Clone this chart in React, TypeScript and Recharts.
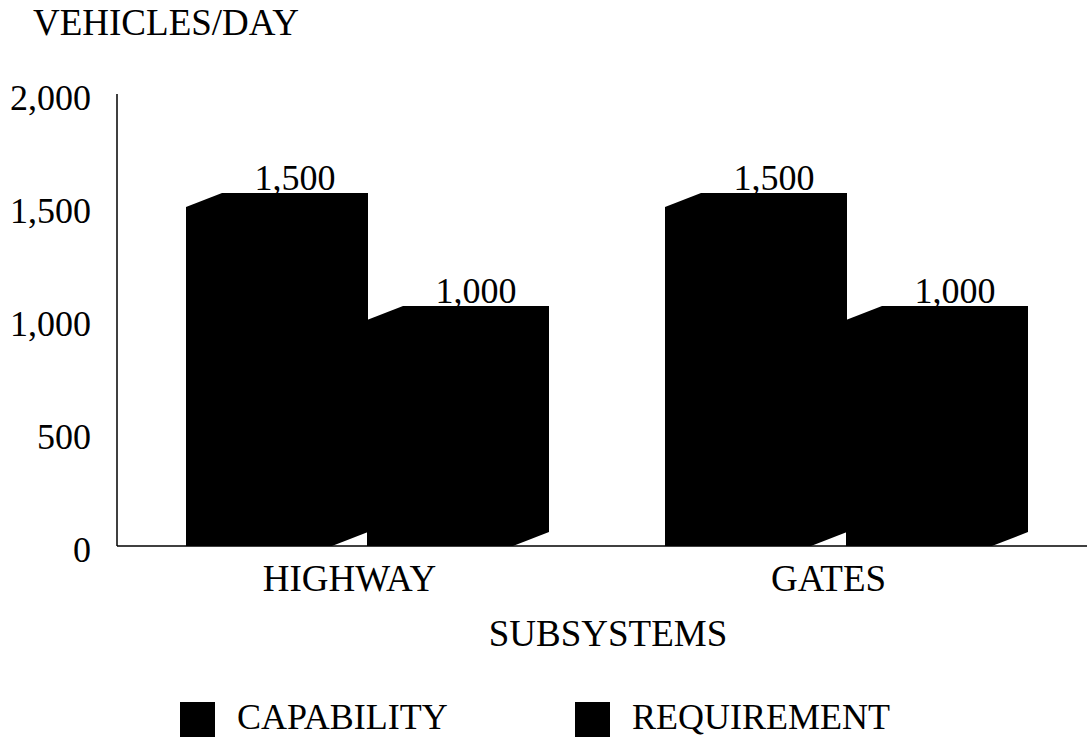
import { BarChart, Bar, XAxis, YAxis, LabelList } from 'recharts';

const subsystems = ['HIGHWAY', 'GATES'];
const capability = [1500, 1500];
const requirement = [1000, 1000];
const yTicks = [0, 500, 1000, 1500, 2000];
const seriesNames = ['CAPABILITY', 'REQUIREMENT'];

const data = subsystems.map((name, i) => ({
  name,
  capability: capability[i],
  requirement: requirement[i],
}));

const FONT = '"Liberation Serif", serif';
// depth of the fake 3D block
const DX = 36;
const DY = -14;

const fmt = (v: number) => v.toLocaleString('en-US');

function Block(props: any) {
  const { x, y, width, height, fill } = props;
  const pts = [
    [x, y + height],
    [x, y],
    [x + DX, y + DY],
    [x + width + DX, y + DY],
    [x + width + DX, y + height + DY],
    [x + width, y + height],
  ];
  return <polygon points={pts.map((p) => p.join(',')).join(' ')} fill={fill} />;
}

function TopLabel(props: any) {
  const { x, y, width, value } = props;
  return (
    <text x={x + width / 2 + DX} y={y + DY - 3} textAnchor="middle" style={{ fontFamily: FONT }} fontSize={36} fill="#000">
      {fmt(value)}
    </text>
  );
}

function YTick(props: any) {
  const { x, y, payload } = props;
  return (
    <text x={x} y={y + 3} dy="0.355em" textAnchor="end" style={{ fontFamily: FONT }} fontSize={36} fill="#000">
      {fmt(payload.value)}
    </text>
  );
}

function XTick(props: any) {
  const { x, y, payload } = props;
  return (
    <text x={x} y={y} dy="0.71em" textAnchor="middle" style={{ fontFamily: FONT }} fontSize={37} fill="#000">
      {payload.value}
    </text>
  );
}

export default function App() {
  return (
    <div style={{ position: 'absolute', left: 0, top: 0, width: 1087, height: 737, background: '#fff' }}>
      <BarChart
        width={1087}
        height={737}
        data={data}
        margin={{ top: 94, right: 0, left: 0, bottom: 91 }}
        barSize={146}
        barGap={35}
      >
        <XAxis
          dataKey="name"
          height={100}
          padding={{ left: -7, right: 19 }}
          axisLine={{ stroke: '#000', strokeWidth: 1.5 }}
          tickLine={false}
          tickSize={0}
          tickMargin={19}
          tick={<XTick />}
        />
        <YAxis
          width={117}
          domain={[0, 2000]}
          ticks={yTicks}
          axisLine={{ stroke: '#000', strokeWidth: 1.5 }}
          tickLine={false}
          tickSize={0}
          tickMargin={26}
          tick={<YTick />}
        />
        <Bar dataKey="capability" fill="#000" shape={<Block />} isAnimationActive={false}>
          <LabelList dataKey="capability" content={<TopLabel />} />
        </Bar>
        <Bar dataKey="requirement" fill="#000" shape={<Block />} isAnimationActive={false}>
          <LabelList dataKey="requirement" content={<TopLabel />} />
        </Bar>
      </BarChart>
      <svg width={1087} height={737} style={{ position: 'absolute', left: 0, top: 0, pointerEvents: 'none', fontFamily: FONT }}>
        <text x={33} y={35} fontSize={37} fill="#000">VEHICLES/DAY</text>
        <text x={608} y={646} textAnchor="middle" fontSize={37} fill="#000">SUBSYSTEMS</text>
        <rect x={180} y={702} width={35} height={35} fill="#000" />
        <text x={237} y={729} fontSize={36} fill="#000">{seriesNames[0]}</text>
        <rect x={575} y={702} width={35} height={35} fill="#000" />
        <text x={632} y={729} fontSize={36} fill="#000">{seriesNames[1]}</text>
      </svg>
    </div>
  );
}
